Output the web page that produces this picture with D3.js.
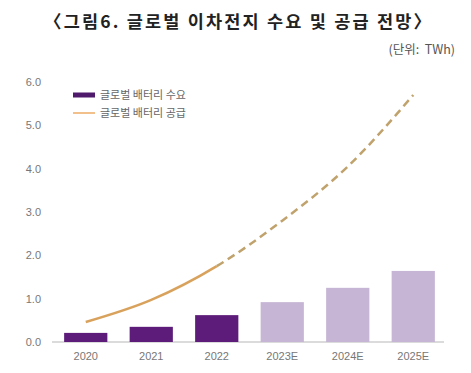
<!DOCTYPE html>
<meta charset="utf-8">
<style>
body { margin: 0; background: #fff; }
svg { font-family: "Noto Sans CJK KR", "Noto Sans", sans-serif; }
.axis path { display: none; }
.axis line { display: none; }
.axis text { fill: #777; font-size: 11px; }
</style>
<svg width="471" height="373"></svg>
<script src="https://cdn.jsdelivr.net/npm/d3@7"></script>
<script>

var years = ["2020", "2021", "2022", "2023E", "2024E", "2025E"];
var demand = [0.21, 0.35, 0.62, 0.92, 1.25, 1.64];
var supply = [0.46, 0.97, 1.75, 2.8, 4.05, 5.7];
var yTicks = [0, 1, 2, 3, 4, 5, 6];
var legendLabels = ["글로벌 배터리 수요", "글로벌 배터리 공급"];
var actualCount = 3; // 2020~2022 actual, rest forecast

var svg = d3.select("svg");

var x = d3.scaleBand().domain(years).range([53, 446]).paddingInner(0.34).paddingOuter(0.17);
var y = d3.scaleLinear().domain([0, 6]).range([342, 82]);

// title
svg.append("text")
    .attr("x", 44).attr("y", 28)
    .attr("textLength", 387)
    .attr("font-size", 17.5).attr("font-weight", "bold").attr("fill", "#222")
    .text("〈그림6. 글로벌 이차전지 수요 및 공급 전망〉");

svg.append("text")
    .attr("x", 455).attr("y", 54)
    .attr("text-anchor", "end")
    .attr("font-size", 12.5).attr("fill", "#555")
    .style("white-space", "pre")
    .text("(단위:  TWh)");

// y axis labels
svg.append("g")
    .attr("class", "axis")
    .attr("transform", "translate(43,0)")
    .call(d3.axisLeft(y).tickValues(yTicks).tickFormat(d3.format(".1f")).tickSize(0).tickPadding(2));

// baseline
svg.append("line")
    .attr("x1", 52).attr("x2", 444)
    .attr("y1", y(0)).attr("y2", y(0))
    .attr("stroke", "#cfcfcf").attr("stroke-width", 1.5);

// bars
svg.append("g").selectAll("rect").data(demand)
  .enter().append("rect")
    .attr("x", function(d, i) { return x(years[i]); })
    .attr("width", x.bandwidth())
    .attr("y", function(d) { return y(d); })
    .attr("height", function(d) { return y(0) - y(d); })
    .attr("fill", function(d, i) { return i < actualCount ? "#5d1c7a" : "#c6b5d4"; });

// x labels
svg.append("g")
    .attr("class", "axis")
    .attr("transform", "translate(0," + (y(0) + 6) + ")")
    .call(d3.axisBottom(x).tickSize(0).tickPadding(4));

// supply line: solid for actual, dashed for forecast
var pts = supply.map(function(d, i) { return [x(years[i]) + x.bandwidth() / 2, y(d)]; });
var line = d3.line().curve(d3.curveMonotoneX);

var full = svg.append("path")
    .attr("d", line(pts))
    .attr("fill", "none").attr("stroke", "none");
var node = full.node();
var total = node.getTotalLength();

// find length at the 2022 point
var splitX = pts[actualCount - 1][0];
var lo = 0, hi = total;
for (var k = 0; k < 40; k++) {
  var mid = (lo + hi) / 2;
  if (node.getPointAtLength(mid).x < splitX) lo = mid; else hi = mid;
}
var splitLen = lo;

svg.append("path")
    .attr("d", line(pts))
    .attr("fill", "none")
    .attr("stroke", "#d9a25c")
    .attr("stroke-width", 2.5)
    .attr("stroke-dasharray", splitLen + "," + total);

svg.append("path")
    .attr("d", line(pts))
    .attr("fill", "none")
    .attr("stroke", "#c0a26c")
    .attr("stroke-width", 2.5)
    .attr("stroke-dasharray", "0," + splitLen + "," + d3.range(60).map(function() { return "8,5"; }).join(","));

// legend
var legend = svg.append("g");
legend.append("line")
    .attr("x1", 73).attr("x2", 95).attr("y1", 95).attr("y2", 95)
    .attr("stroke", "#4f1a6b").attr("stroke-width", 5);
legend.append("line")
    .attr("x1", 73).attr("x2", 95).attr("y1", 113).attr("y2", 113)
    .attr("stroke", "#f2c08a").attr("stroke-width", 2);
legend.selectAll("text").data(legendLabels)
  .enter().append("text")
    .attr("x", 100)
    .attr("y", function(d, i) { return 99 + i * 18; })
    .attr("font-size", 11).attr("fill", "#666")
    .text(function(d) { return d; });

</script>
